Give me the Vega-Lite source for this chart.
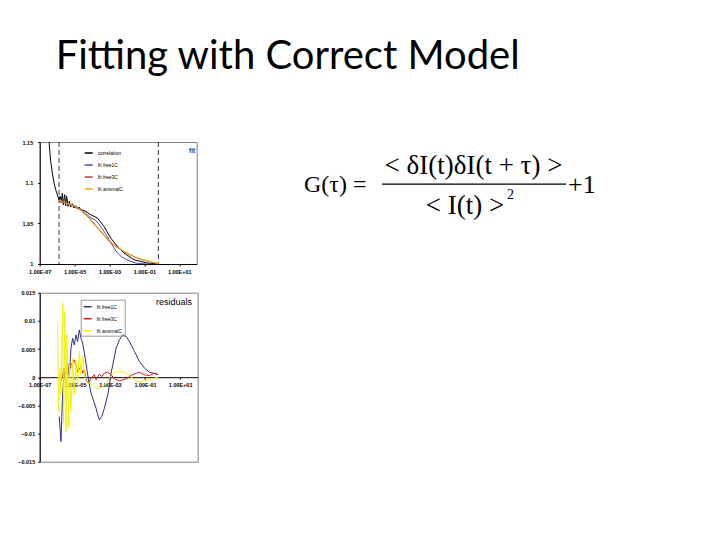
{
  "$schema": "https://vega.github.io/schema/vega-lite/v6.json",
  "background": "white",
  "padding": {"left": 16.7, "top": 37, "right": 5, "bottom": 5},
  "title": {"text": "Fitting with Correct Model", "anchor": "start", "frame": "group", "font": "Lato", "fontSize": 40, "fontWeight": "normal", "color": "#000000", "dx": 16, "offset": 62.5},
  "config": {
    "view": {"stroke": "#808080", "strokeWidth": 1},
    "axis": {"labelFont": "Liberation Sans", "labelFontSize": 5.5, "labelFontWeight": "bold", "labelColor": "#000000", "domainColor": "#000000", "tickColor": "#000000", "tickSize": 2, "grid": false, "labelOverlap": false, "tickCount": 20},
    "legend": {"labelFont": "Liberation Sans", "labelFontSize": 5, "labelColor": "#000000", "symbolType": "stroke", "symbolSize": 64, "symbolStrokeWidth": 1.5, "rowPadding": 4, "title": null}
  },
  "datasets": {
    "fit": [
      {"series": "correlation", "log_tau": -6.467, "g": 1.152},
      {"series": "correlation", "log_tau": -6.428, "g": 1.1405},
      {"series": "correlation", "log_tau": -6.371, "g": 1.1262},
      {"series": "correlation", "log_tau": -6.276, "g": 1.1119},
      {"series": "correlation", "log_tau": -6.18, "g": 1.0996},
      {"series": "correlation", "log_tau": -6.084, "g": 1.0914},
      {"series": "correlation", "log_tau": -5.989, "g": 1.0852},
      {"series": "correlation", "log_tau": -5.893, "g": 1.079},
      {"series": "correlation", "log_tau": -5.836, "g": 1.0832},
      {"series": "correlation", "log_tau": -5.76, "g": 1.077},
      {"series": "correlation", "log_tau": -5.702, "g": 1.0873},
      {"series": "correlation", "log_tau": -5.645, "g": 1.0729},
      {"series": "correlation", "log_tau": -5.568, "g": 1.0852},
      {"series": "correlation", "log_tau": -5.511, "g": 1.0717},
      {"series": "correlation", "log_tau": -5.454, "g": 1.0832},
      {"series": "correlation", "log_tau": -5.377, "g": 1.0708},
      {"series": "correlation", "log_tau": -5.301, "g": 1.077},
      {"series": "correlation", "log_tau": -5.224, "g": 1.07},
      {"series": "correlation", "log_tau": -5.129, "g": 1.0741},
      {"series": "correlation", "log_tau": -5.033, "g": 1.0688},
      {"series": "correlation", "log_tau": -4.938, "g": 1.0717},
      {"series": "correlation", "log_tau": -4.842, "g": 1.0676},
      {"series": "correlation", "log_tau": -4.747, "g": 1.07},
      {"series": "correlation", "log_tau": -4.651, "g": 1.0668},
      {"series": "correlation", "log_tau": -4.46, "g": 1.0659},
      {"series": "correlation", "log_tau": -4.077, "g": 1.0606},
      {"series": "correlation", "log_tau": -3.695, "g": 1.0566},
      {"series": "correlation", "log_tau": -3.313, "g": 1.0462},
      {"series": "correlation", "log_tau": -2.931, "g": 1.032},
      {"series": "correlation", "log_tau": -2.549, "g": 1.0217},
      {"series": "correlation", "log_tau": -2.166, "g": 1.0135},
      {"series": "correlation", "log_tau": -1.593, "g": 1.0053},
      {"series": "correlation", "log_tau": -0.829, "g": 1.0012},
      {"series": "correlation", "log_tau": -0.198, "g": 1.0},
      {"series": "fit free1C", "log_tau": -5.893, "g": 1.077},
      {"series": "fit free1C", "log_tau": -5.5, "g": 1.0748},
      {"series": "fit free1C", "log_tau": -5.0, "g": 1.0715},
      {"series": "fit free1C", "log_tau": -4.6, "g": 1.0665},
      {"series": "fit free1C", "log_tau": -4.173, "g": 1.0585},
      {"series": "fit free1C", "log_tau": -3.791, "g": 1.0536},
      {"series": "fit free1C", "log_tau": -3.6, "g": 1.049},
      {"series": "fit free1C", "log_tau": -3.409, "g": 1.043},
      {"series": "fit free1C", "log_tau": -3.2, "g": 1.0365},
      {"series": "fit free1C", "log_tau": -3.026, "g": 1.0299},
      {"series": "fit free1C", "log_tau": -2.83, "g": 1.023},
      {"series": "fit free1C", "log_tau": -2.644, "g": 1.0164},
      {"series": "fit free1C", "log_tau": -2.45, "g": 1.0118},
      {"series": "fit free1C", "log_tau": -2.262, "g": 1.0081},
      {"series": "fit free1C", "log_tau": -1.88, "g": 1.004},
      {"series": "fit free1C", "log_tau": -1.497, "g": 1.0012},
      {"series": "fit free1C", "log_tau": -0.924, "g": 1.0},
      {"series": "fit free1C", "log_tau": -0.2, "g": 1.0},
      {"series": "fit free3C", "log_tau": -5.893, "g": 1.077},
      {"series": "fit free3C", "log_tau": -5.5, "g": 1.0745},
      {"series": "fit free3C", "log_tau": -5.0, "g": 1.0705},
      {"series": "fit free3C", "log_tau": -4.6, "g": 1.0655},
      {"series": "fit free3C", "log_tau": -4.173, "g": 1.0565},
      {"series": "fit free3C", "log_tau": -3.8, "g": 1.047},
      {"series": "fit free3C", "log_tau": -3.6, "g": 1.0422},
      {"series": "fit free3C", "log_tau": -3.3, "g": 1.035},
      {"series": "fit free3C", "log_tau": -3.026, "g": 1.0278},
      {"series": "fit free3C", "log_tau": -2.644, "g": 1.0215},
      {"series": "fit free3C", "log_tau": -2.262, "g": 1.0164},
      {"series": "fit free3C", "log_tau": -1.88, "g": 1.012},
      {"series": "fit free3C", "log_tau": -1.497, "g": 1.0081},
      {"series": "fit free3C", "log_tau": -1.1, "g": 1.0052},
      {"series": "fit free3C", "log_tau": -0.733, "g": 1.0032},
      {"series": "fit free3C", "log_tau": -0.4, "g": 1.0014},
      {"series": "fit free3C", "log_tau": -0.16, "g": 1.0004},
      {"series": "fit anomalC", "log_tau": -5.893, "g": 1.0785},
      {"series": "fit anomalC", "log_tau": -5.5, "g": 1.0752},
      {"series": "fit anomalC", "log_tau": -5.0, "g": 1.071},
      {"series": "fit anomalC", "log_tau": -4.6, "g": 1.066},
      {"series": "fit anomalC", "log_tau": -4.173, "g": 1.0575},
      {"series": "fit anomalC", "log_tau": -3.8, "g": 1.048},
      {"series": "fit anomalC", "log_tau": -3.6, "g": 1.043},
      {"series": "fit anomalC", "log_tau": -3.3, "g": 1.0358},
      {"series": "fit anomalC", "log_tau": -3.026, "g": 1.0286},
      {"series": "fit anomalC", "log_tau": -2.644, "g": 1.0222},
      {"series": "fit anomalC", "log_tau": -2.262, "g": 1.0168},
      {"series": "fit anomalC", "log_tau": -1.88, "g": 1.0124},
      {"series": "fit anomalC", "log_tau": -1.497, "g": 1.0084},
      {"series": "fit anomalC", "log_tau": -1.1, "g": 1.0054},
      {"series": "fit anomalC", "log_tau": -0.733, "g": 1.0033},
      {"series": "fit anomalC", "log_tau": -0.4, "g": 1.0015},
      {"series": "fit anomalC", "log_tau": -0.16, "g": 1.0004}
    ],
    "fit_range": [
      {"bound": "start", "log_tau": -5.89},
      {"bound": "end", "log_tau": -0.2}
    ],
    "resid": [
      {"series": "fit free1C", "log_tau": -5.886, "r": -0.00698},
      {"series": "fit free1C", "log_tau": -5.79, "r": -0.01142},
      {"series": "fit free1C", "log_tau": -5.695, "r": -0.00314},
      {"series": "fit free1C", "log_tau": -5.6, "r": 0.00101},
      {"series": "fit free1C", "log_tau": -5.505, "r": -0.00136},
      {"series": "fit free1C", "log_tau": -5.41, "r": 0.00249},
      {"series": "fit free1C", "log_tau": -5.314, "r": 0.00012},
      {"series": "fit free1C", "log_tau": -5.219, "r": 0.00515},
      {"series": "fit free1C", "log_tau": -5.124, "r": 0.00692},
      {"series": "fit free1C", "log_tau": -5.029, "r": 0.00574},
      {"series": "fit free1C", "log_tau": -4.933, "r": 0.00751},
      {"series": "fit free1C", "log_tau": -4.838, "r": 0.00633},
      {"series": "fit free1C", "log_tau": -4.743, "r": 0.0084},
      {"series": "fit free1C", "log_tau": -4.648, "r": 0.00692},
      {"series": "fit free1C", "log_tau": -4.552, "r": 0.00604},
      {"series": "fit free1C", "log_tau": -4.457, "r": 0.00426},
      {"series": "fit free1C", "log_tau": -4.362, "r": 0.00249},
      {"series": "fit free1C", "log_tau": -4.267, "r": 0.00041},
      {"series": "fit free1C", "log_tau": -4.171, "r": -0.00136},
      {"series": "fit free1C", "log_tau": -4.076, "r": -0.00284},
      {"series": "fit free1C", "log_tau": -3.981, "r": -0.00373},
      {"series": "fit free1C", "log_tau": -3.79, "r": -0.0055},
      {"series": "fit free1C", "log_tau": -3.695, "r": -0.00669},
      {"series": "fit free1C", "log_tau": -3.6, "r": -0.00757},
      {"series": "fit free1C", "log_tau": -3.467, "r": -0.00698},
      {"series": "fit free1C", "log_tau": -3.314, "r": -0.0055},
      {"series": "fit free1C", "log_tau": -3.124, "r": -0.00314},
      {"series": "fit free1C", "log_tau": -3.029, "r": -0.00136},
      {"series": "fit free1C", "log_tau": -2.933, "r": 0.00071},
      {"series": "fit free1C", "log_tau": -2.838, "r": 0.00219},
      {"series": "fit free1C", "log_tau": -2.648, "r": 0.00515},
      {"series": "fit free1C", "log_tau": -2.457, "r": 0.00663},
      {"series": "fit free1C", "log_tau": -2.267, "r": 0.00751},
      {"series": "fit free1C", "log_tau": -2.076, "r": 0.00722},
      {"series": "fit free1C", "log_tau": -1.886, "r": 0.00633},
      {"series": "fit free1C", "log_tau": -1.6, "r": 0.00456},
      {"series": "fit free1C", "log_tau": -1.314, "r": 0.00278},
      {"series": "fit free1C", "log_tau": -1.029, "r": 0.0016},
      {"series": "fit free1C", "log_tau": -0.743, "r": 0.00089},
      {"series": "fit free1C", "log_tau": -0.457, "r": 0.00065},
      {"series": "fit free1C", "log_tau": -0.267, "r": 0.00041},
      {"series": "fit free3C", "log_tau": -5.79, "r": -0.00077},
      {"series": "fit free3C", "log_tau": -5.6, "r": 0.0016},
      {"series": "fit free3C", "log_tau": -5.41, "r": 0.00041},
      {"series": "fit free3C", "log_tau": -5.219, "r": 0.00219},
      {"series": "fit free3C", "log_tau": -5.029, "r": 0.00308},
      {"series": "fit free3C", "log_tau": -4.838, "r": 0.00101},
      {"series": "fit free3C", "log_tau": -4.648, "r": 0.00189},
      {"series": "fit free3C", "log_tau": -4.552, "r": 0.00071},
      {"series": "fit free3C", "log_tau": -4.457, "r": 0.0013},
      {"series": "fit free3C", "log_tau": -4.362, "r": -0.00047},
      {"series": "fit free3C", "log_tau": -4.229, "r": -0.00107},
      {"series": "fit free3C", "log_tau": -4.076, "r": -0.00018},
      {"series": "fit free3C", "log_tau": -3.886, "r": 0.00041},
      {"series": "fit free3C", "log_tau": -3.79, "r": -0.00047},
      {"series": "fit free3C", "log_tau": -3.6, "r": 0.00053},
      {"series": "fit free3C", "log_tau": -3.467, "r": 0.00012},
      {"series": "fit free3C", "log_tau": -3.314, "r": 0.00071},
      {"series": "fit free3C", "log_tau": -3.124, "r": 0.00089},
      {"series": "fit free3C", "log_tau": -2.933, "r": 0.00041},
      {"series": "fit free3C", "log_tau": -2.743, "r": -0.0003},
      {"series": "fit free3C", "log_tau": -2.457, "r": -0.00065},
      {"series": "fit free3C", "log_tau": -2.076, "r": -0.0003},
      {"series": "fit free3C", "log_tau": -1.79, "r": 0.0003},
      {"series": "fit free3C", "log_tau": -1.505, "r": 0.00071},
      {"series": "fit free3C", "log_tau": -1.314, "r": 0.00089},
      {"series": "fit free3C", "log_tau": -1.029, "r": 0.00041},
      {"series": "fit free3C", "log_tau": -0.743, "r": 0.0003},
      {"series": "fit free3C", "log_tau": -0.457, "r": 0.00071},
      {"series": "fit free3C", "log_tau": -0.267, "r": 0.00053},
      {"series": "fit anomalC", "log_tau": -5.981, "r": 0.00929},
      {"series": "fit anomalC", "log_tau": -5.924, "r": -0.00609},
      {"series": "fit anomalC", "log_tau": -5.848, "r": 0.0016},
      {"series": "fit anomalC", "log_tau": -5.79, "r": -0.00314},
      {"series": "fit anomalC", "log_tau": -5.695, "r": 0.01314},
      {"series": "fit anomalC", "log_tau": -5.638, "r": -0.00846},
      {"series": "fit anomalC", "log_tau": -5.562, "r": 0.01166},
      {"series": "fit anomalC", "log_tau": -5.505, "r": -0.00964},
      {"series": "fit anomalC", "log_tau": -5.448, "r": 0.00751},
      {"series": "fit anomalC", "log_tau": -5.371, "r": -0.00905},
      {"series": "fit anomalC", "log_tau": -5.314, "r": 0.00219},
      {"series": "fit anomalC", "log_tau": -5.219, "r": -0.00609},
      {"series": "fit anomalC", "log_tau": -5.124, "r": 0.00337},
      {"series": "fit anomalC", "log_tau": -5.029, "r": -0.00314},
      {"series": "fit anomalC", "log_tau": -4.933, "r": 0.00278},
      {"series": "fit anomalC", "log_tau": -4.838, "r": -0.00136},
      {"series": "fit anomalC", "log_tau": -4.743, "r": 0.00456},
      {"series": "fit anomalC", "log_tau": -4.648, "r": 0.00041},
      {"series": "fit anomalC", "log_tau": -4.552, "r": 0.00367},
      {"series": "fit anomalC", "log_tau": -4.457, "r": 0.00071},
      {"series": "fit anomalC", "log_tau": -4.362, "r": -0.00077},
      {"series": "fit anomalC", "log_tau": -4.171, "r": -0.00107},
      {"series": "fit anomalC", "log_tau": -3.886, "r": -0.00166},
      {"series": "fit anomalC", "log_tau": -3.6, "r": -0.00207},
      {"series": "fit anomalC", "log_tau": -3.314, "r": -0.00136},
      {"series": "fit anomalC", "log_tau": -3.029, "r": -0.00018},
      {"series": "fit anomalC", "log_tau": -2.743, "r": 0.00071},
      {"series": "fit anomalC", "log_tau": -2.457, "r": 0.00112},
      {"series": "fit anomalC", "log_tau": -2.076, "r": 0.00071},
      {"series": "fit anomalC", "log_tau": -1.6, "r": -0.00047},
      {"series": "fit anomalC", "log_tau": -1.314, "r": -0.00089},
      {"series": "fit anomalC", "log_tau": -1.029, "r": -0.00065},
      {"series": "fit anomalC", "log_tau": -0.743, "r": -0.00036},
      {"series": "fit anomalC", "log_tau": -0.457, "r": -0.00018},
      {"series": "fit anomalC", "log_tau": -0.267, "r": 0.0}
    ]
  },
  "bounds": "flush",
  "spacing": 249.3,
  "hconcat": [
    {
      "bounds": "flush",
      "spacing": 28.7,
      "resolve": {"scale": {"color": "independent", "x": "independent", "y": "independent"}, "legend": {"color": "independent"}},
      "vconcat": [
        {
          "width": 157,
          "height": 122,
          "layer": [
            {
              "data": {"name": "fit_range"},
              "mark": {"type": "rule", "color": "#333333", "strokeDash": [5, 3], "strokeWidth": 1},
              "encoding": {
                "x": {"field": "log_tau", "type": "quantitative", "scale": {"domain": [-7, 2], "nice": false, "zero": false},
                  "axis": {"title": null, "values": [-7, -5, -3, -1, 1], "tickCount": 20, "labelFlush": false, "labelOverlap": false, "labelPadding": 4, "labelExpr": "'1.00E' + (datum.value < 0 ? '-' : '+') + (abs(datum.value) < 10 ? '0' : '') + abs(datum.value)"}}
              }
            },
            {
              "data": {"name": "fit"},
              "mark": {"type": "line", "strokeWidth": 1, "clip": true},
              "encoding": {
                "x": {"field": "log_tau", "type": "quantitative"},
                "y": {"field": "g", "type": "quantitative", "scale": {"domain": [1, 1.15], "nice": false, "zero": false},
                  "axis": {"title": null, "values": [1, 1.05, 1.1, 1.15], "tickCount": 20, "labelFlush": false, "labelOverlap": false, "format": ".3~g", "labelPadding": 5}},
                "color": {"field": "series", "type": "nominal", "sort": null,
                  "scale": {"domain": ["correlation", "fit free1C", "fit free3C", "fit anomalC"], "range": ["#000000", "#4a4aa6", "#c0392b", "#f2a900"]},
                  "legend": {"orient": "none", "legendX": 44, "legendY": 6}}
              }
            },
            {
              "data": {"values": [{"label": "fit"}]},
              "mark": {"type": "text", "align": "right", "baseline": "middle", "font": "Liberation Sans", "fontSize": 8, "fill": "#000000", "color": "#000000"},
              "encoding": {
                "text": {"field": "label"},
                "x": {"datum": 1.92, "type": "quantitative"},
                "y": {"datum": 1.1393, "type": "quantitative"}
              }
            }
          ]
        },
        {
          "width": 158,
          "height": 169,
          "layer": [
            {
              "data": {"name": "resid"},
              "mark": {"type": "line", "strokeWidth": 1, "clip": true},
              "encoding": {
                "x": {"field": "log_tau", "type": "quantitative", "scale": {"domain": [-7, 2], "nice": false, "zero": false},
                  "axis": {"title": null, "values": [-7, -5, -3, -1, 1], "tickCount": 20, "labelFlush": false, "labelOverlap": false, "offset": -84.5, "labelPadding": 3, "labelExpr": "'1.00E' + (datum.value < 0 ? '-' : '+') + (abs(datum.value) < 10 ? '0' : '') + abs(datum.value)"}},
                "y": {"field": "r", "type": "quantitative", "scale": {"domain": [-0.015, 0.015], "nice": false, "zero": false},
                  "axis": {"title": null, "values": [-0.015, -0.01, -0.005, 0, 0.005, 0.01, 0.015], "tickCount": 20, "labelFlush": false, "labelOverlap": false, "format": ".2~g", "labelPadding": 3}},
                "color": {"field": "series", "type": "nominal", "sort": null,
                  "scale": {"domain": ["fit free1C", "fit free3C", "fit anomalC"], "range": ["#2b2b8f", "#e31a1c", "#f2f200"]},
                  "legend": {"orient": "none", "legendX": 41, "legendY": 7, "strokeColor": "#999999", "padding": 2}}
              }
            },
            {
              "data": {"values": [{"label": "residuals"}]},
              "mark": {"type": "text", "align": "right", "baseline": "middle", "font": "Liberation Sans", "fontSize": 9, "fill": "#000000", "color": "#000000"},
              "encoding": {
                "text": {"field": "label"},
                "x": {"datum": 1.68, "type": "quantitative"},
                "y": {"datum": 0.0134, "type": "quantitative"}
              }
            }
          ]
        }
      ]
    },
    {
      "width": 320,
      "height": 90,
      "view": {"stroke": null},
      "data": {"values": [{"eq": "G"}]},
      "layer": [
        {
          "mark": {"type": "text", "text": "G(τ) =", "align": "left", "baseline": "middle", "font": "Liberation Serif", "fontSize": 24, "color": "#000000"},
          "encoding": {
            "x": {"datum": 15, "type": "quantitative", "scale": {"domain": [0, 320], "nice": false, "zero": false}, "axis": null},
            "y": {"datum": 42.7, "type": "quantitative", "scale": {"domain": [90, 0], "nice": false, "zero": false}, "axis": null}
          }
        },
        {
          "mark": {"type": "text", "text": "< δI(t)δI(t + τ) >", "align": "center", "baseline": "middle", "font": "Liberation Serif", "fontSize": 27, "color": "#000000"},
          "encoding": {"x": {"datum": 184.5, "type": "quantitative"}, "y": {"datum": 23.7, "type": "quantitative"}}
        },
        {
          "mark": {"type": "rule", "color": "#000000", "strokeWidth": 1.3},
          "encoding": {"x": {"datum": 93, "type": "quantitative"}, "x2": {"datum": 277}, "y": {"datum": 42.2, "type": "quantitative"}}
        },
        {
          "mark": {"type": "text", "text": "< I(t) >", "align": "center", "baseline": "middle", "font": "Liberation Serif", "fontSize": 27, "color": "#000000"},
          "encoding": {"x": {"datum": 176, "type": "quantitative"}, "y": {"datum": 63.7, "type": "quantitative"}}
        },
        {
          "mark": {"type": "text", "text": "2", "align": "left", "baseline": "middle", "font": "Liberation Serif", "fontSize": 14, "color": "#000000"},
          "encoding": {"x": {"datum": 218, "type": "quantitative"}, "y": {"datum": 52.7, "type": "quantitative"}}
        },
        {
          "mark": {"type": "text", "text": "+1", "align": "left", "baseline": "middle", "font": "Liberation Serif", "fontSize": 26, "color": "#000000"},
          "encoding": {"x": {"datum": 279, "type": "quantitative"}, "y": {"datum": 42.7, "type": "quantitative"}}
        }
      ]
    }
  ]
}
